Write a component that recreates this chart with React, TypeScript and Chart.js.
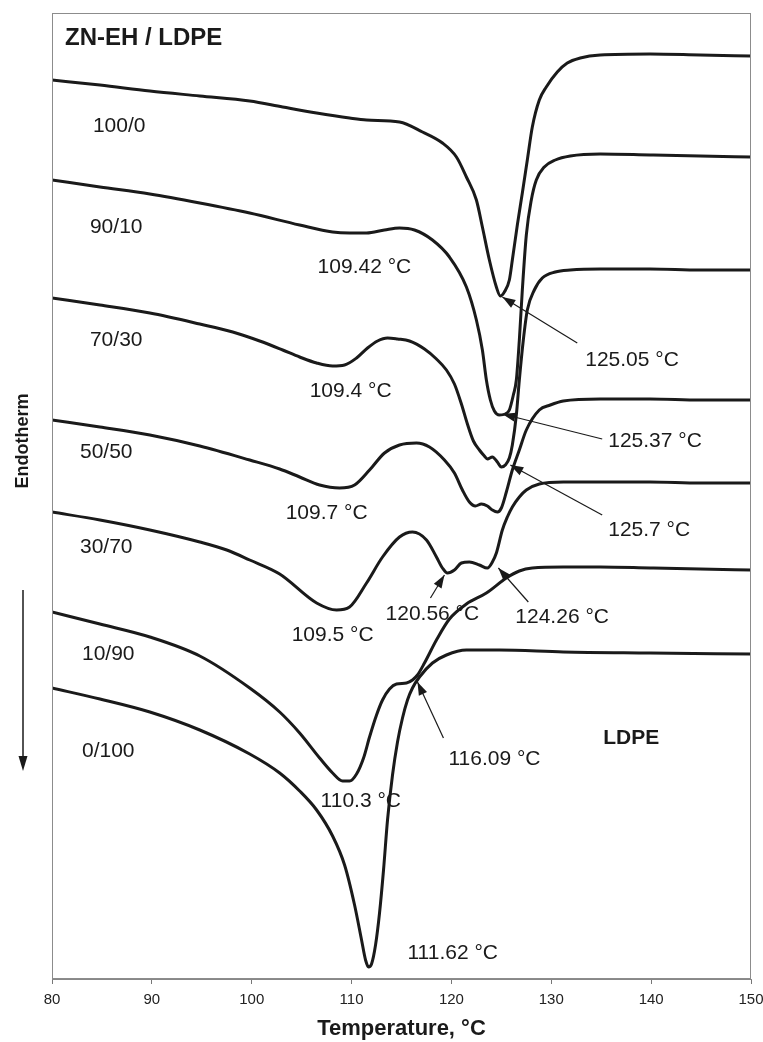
import React, { useEffect, useRef } from "react";
import { Chart, registerables } from "chart.js";

Chart.register(...registerables);

// Temperature (°C) and heat flow (arbitrary units, endotherm down) for each blend
const t100_0 = [80,84.8,89.8,94.8,99.8,103.1,106.5,109.8,111.5,114.8,117.1,119.1,120.5,121.5,122.5,123.1,123.8,124.5,124.9,125.3,125.8,126.1,126.6,127.1,127.6,128.1,128.8,129.5,130.6,131.6,132.9,134.9,139.9,144.9,150];
const h100_0 = [89.9,89.4,88.8,88.3,87.8,87.2,86.6,86.1,85.9,85.7,84.7,83.6,82.2,80.2,77.9,75.2,71.9,69.2,68.3,68.7,69.9,71.9,75.4,78.6,81.9,85.2,87.9,89.2,90.7,91.6,92.1,92.4,92.5,92.4,92.3];

const t90_10 = [80,84.8,89.8,94.8,99.8,104.8,108.1,109.8,111.5,113.3,114.8,116.3,118.1,119.8,121.5,122.5,123.1,123.5,123.9,124.3,124.8,125.4,125.8,126.2,126.5,126.8,127.1,127.5,128.0,128.5,129.3,130.4,131.9,134.9,139.9,144.9,150];
const h90_10 = [79.9,79.2,78.5,77.6,76.6,75.4,74.7,74.6,74.6,74.9,75.1,74.9,73.9,72.2,69.2,65.9,62.9,59.9,57.9,56.8,56.4,56.5,56.9,58.4,59.9,63.9,68.9,74.4,77.9,79.9,81.2,81.9,82.3,82.5,82.4,82.3,82.2];

const t70_30 = [80,84.8,89.8,94.8,98.1,100.8,103.1,104.8,106.5,108.1,109.3,110.5,111.6,112.6,113.6,114.6,115.8,117.3,118.5,119.5,120.3,121.0,121.6,122.2,122.8,123.3,123.6,124.1,124.6,125.0,125.4,125.8,126.1,126.5,126.8,127.2,127.6,128.3,129.1,130.4,131.9,134.9,139.9,144.9,150];
const h70_30 = [68.1,67.4,66.6,65.5,64.7,63.8,62.9,62.2,61.6,61.3,61.4,62.1,63.1,63.8,64.1,64.0,63.8,63.0,62.0,60.9,59.5,57.5,55.5,53.8,52.9,52.3,52.0,52.2,51.7,51.2,51.4,52.1,53.4,56.4,59.9,63.9,66.9,68.9,70.1,70.7,70.9,71.0,71.0,70.9,70.9];

const t50_50 = [80,84.8,89.8,94.8,99.8,102.8,104.8,106.8,108.8,110.3,111.8,113.3,114.8,116.5,117.8,119.3,120.3,121.1,121.8,122.4,123.0,123.6,124.1,124.6,125.0,125.5,126.1,126.8,127.5,128.8,129.9,131.2,134.9,139.9,144.9,150];
const h50_50 = [55.9,55.2,54.4,53.3,51.9,51.0,50.2,49.4,49.1,49.4,50.9,52.6,53.4,53.6,53.2,51.9,50.6,48.9,47.7,47.3,47.5,47.3,46.9,46.7,47.1,48.7,50.9,52.9,54.9,56.9,57.4,57.8,58.0,58.0,57.9,57.9];

const t30_70 = [80,84.8,89.8,94.8,97.5,99.8,102.8,106.5,108.5,109.8,111.5,113.1,114.8,116.1,117.5,118.5,119.1,119.6,120.3,121.0,121.8,122.8,123.6,124.1,124.5,125.1,125.6,126.1,126.8,127.5,128.8,131.2,134.9,139.9,144.9,150];
const h30_70 = [46.7,45.9,44.9,43.7,42.9,41.9,40.5,37.6,36.9,37.2,39.6,42.2,44.2,44.7,43.9,42.2,41.1,40.6,40.9,41.6,41.7,41.4,41.1,41.7,42.6,44.9,46.2,47.2,48.2,48.9,49.5,49.7,49.7,49.7,49.6,49.6];

const t10_90 = [80,84.8,89.8,94.8,99.8,102.8,104.8,106.8,108.1,109.1,109.8,110.5,111.2,111.8,112.5,113.1,113.8,114.5,115.5,116.1,116.6,117.3,118.5,119.8,121.5,123.5,125.5,126.8,128.1,131.2,134.9,139.9,144.9,150];
const h10_90 = [36.7,35.5,34.2,32.3,29.1,26.7,24.6,22.1,20.6,19.8,19.8,20.5,22.1,24.2,26.4,27.9,29.0,29.5,29.6,29.9,30.4,31.6,33.9,36.0,37.5,38.6,40.1,40.8,41.1,41.2,41.2,41.1,41.0,40.9];

const t0_100 = [80,84.8,89.8,94.8,99.8,102.8,104.8,106.5,108.1,109.3,110.3,111.0,111.4,111.7,112.0,112.4,112.8,113.2,113.6,114.1,114.6,115.1,115.6,116.1,116.8,118.1,119.5,121.5,124.8,131.2,139.9,150];
const h0_100 = [29.1,28.0,26.7,24.9,22.5,20.6,18.8,16.9,14.3,11.4,7.4,3.9,1.9,1.2,1.5,3.4,6.6,10.9,15.9,20.4,23.7,26.1,27.9,29.1,30.2,31.6,32.4,32.9,32.9,32.7,32.6,32.5];

const blendNames = ["100/0", "90/10", "70/30", "50/50", "30/70", "10/90", "0/100"];
const xTicks = [80, 90, 100, 110, 120, 130, 140, 150];

// Text annotations: [text, T, H, bold?]
const labels: [string, number, number, boolean][] = [
  ["ZN-EH / LDPE", 81.3, 94.1, true],
  ["100/0", 84.1, 85.3, false],
  ["90/10", 83.8, 75.2, false],
  ["70/30", 83.8, 63.9, false],
  ["50/50", 82.8, 52.7, false],
  ["30/70", 82.8, 43.2, false],
  ["10/90", 83.0, 32.5, false],
  ["0/100", 83.0, 22.8, false],
  ["109.42 °C", 106.6, 71.2, false],
  ["125.05 °C", 133.4, 61.9, false],
  ["109.4 °C", 105.8, 58.8, false],
  ["125.37 °C", 135.7, 53.8, false],
  ["109.7 °C", 103.4, 46.6, false],
  ["125.7 °C", 135.7, 44.9, false],
  ["109.5 °C", 104.0, 34.4, false],
  ["120.56 °C", 113.4, 36.5, false],
  ["124.26 °C", 126.4, 36.2, false],
  ["110.3 °C", 106.9, 17.8, false],
  ["116.09 °C", 119.7, 22.0, false],
  ["111.62 °C", 115.6, 2.6, false],
  ["LDPE", 135.2, 24.1, true],
];

// Arrows: [tailT, tailH, tipT, tipH]
const arrows: [number, number, number, number][] = [
  [132.6, 63.6, 125.1, 68.2],
  [135.1, 54.0, 125.1, 56.5],
  [135.1, 46.4, 125.9, 51.4],
  [117.9, 38.1, 119.3, 40.4],
  [127.7, 37.7, 124.7, 41.1],
  [119.2, 24.1, 116.6, 29.7],
];

const FONT = '"Liberation Sans", Arial, Helvetica, sans-serif';
const INK = "#1a1a1a";

function arrowHead(ctx: CanvasRenderingContext2D, x1: number, y1: number, x2: number, y2: number, len: number, half: number) {
  const a = Math.atan2(y2 - y1, x2 - x1);
  ctx.beginPath();
  ctx.moveTo(x2, y2);
  ctx.lineTo(x2 - len * Math.cos(a) + half * Math.sin(a), y2 - len * Math.sin(a) - half * Math.cos(a));
  ctx.lineTo(x2 - len * Math.cos(a) - half * Math.sin(a), y2 - len * Math.sin(a) + half * Math.cos(a));
  ctx.closePath();
  ctx.fill();
}

const annotPlugin = {
  id: "annot",
  afterDatasetsDraw(chart: any) {
    const { ctx, chartArea: ca, scales } = chart;
    const x = scales.x, y = scales.y;
    ctx.save();
    // frame
    ctx.strokeStyle = "#8c8c8c";
    ctx.lineWidth = 1;
    ctx.strokeRect(ca.left + 0.5, ca.top + 0.5, ca.right - ca.left - 1, ca.bottom - ca.top - 1);

    // labels
    ctx.fillStyle = INK;
    ctx.textBaseline = "middle";
    ctx.textAlign = "left";
    for (const [txt, t, h, bold] of labels) {
      if (txt === "ZN-EH / LDPE") ctx.font = `bold 24px ${FONT}`;
      else ctx.font = bold ? `bold 21px ${FONT}` : `21px ${FONT}`;
      ctx.fillText(txt, x.getPixelForValue(t), y.getPixelForValue(h));
    }

    // arrows
    ctx.strokeStyle = INK;
    ctx.lineWidth = 1.2;
    for (const [t1, h1, t2, h2] of arrows) {
      const x1 = x.getPixelForValue(t1), y1 = y.getPixelForValue(h1);
      const x2 = x.getPixelForValue(t2), y2 = y.getPixelForValue(h2);
      ctx.beginPath();
      ctx.moveTo(x1, y1);
      ctx.lineTo(x2, y2);
      ctx.stroke();
      arrowHead(ctx, x1, y1, x2, y2, 13, 4.5);
    }

    // Endotherm label with downward arrow on the left
    const ex = ca.left - 29;
    ctx.save();
    ctx.translate(ex, ca.top + 428);
    ctx.rotate(-Math.PI / 2);
    ctx.font = `bold 18px ${FONT}`;
    ctx.textAlign = "center";
    ctx.textBaseline = "middle";
    ctx.fillText("Endotherm", 0, 0);
    ctx.restore();
    ctx.lineWidth = 1.5;
    ctx.beginPath();
    ctx.moveTo(ex, ca.top + 577);
    ctx.lineTo(ex, ca.top + 750);
    ctx.stroke();
    arrowHead(ctx, ex, ca.top + 577, ex, ca.top + 758, 15, 4.5);
    ctx.restore();
  },
};

export default function App() {
  const ref = useRef<HTMLCanvasElement | null>(null);
  useEffect(() => {
    document.body.style.margin = "0";
    const canvas = ref.current!;
    const series = [
      [t100_0, h100_0], [t90_10, h90_10], [t70_30, h70_30], [t50_50, h50_50],
      [t30_70, h30_70], [t10_90, h10_90], [t0_100, h0_100],
    ];
    const chart = new Chart(canvas, {
      type: "line",
      data: {
        datasets: series.map(([ts, hs], i) => ({
          label: blendNames[i],
          data: ts.map((t, j) => ({ x: t, y: hs[j] })),
          borderColor: INK,
          borderWidth: 3,
          pointRadius: 0,
          fill: false,
          cubicInterpolationMode: "monotone" as const,
        })),
      },
      options: {
        responsive: false,
        animation: false,
        layout: { padding: { top: 13, right: 12, left: 0, bottom: 0 } },
        plugins: { legend: { display: false }, tooltip: { enabled: false } },
        scales: {
          x: {
            type: "linear",
            min: 80,
            max: 150,
            afterBuildTicks: (s: any) => { s.ticks = xTicks.map((v) => ({ value: v })); },
            afterFit: (s: any) => { s.height = 63; s.paddingLeft = 0; s.paddingRight = 0; },
            ticks: { font: { family: FONT, size: 15 }, color: "#222", padding: 7, maxRotation: 0 },
            grid: { display: true, drawOnChartArea: false, drawTicks: true, tickLength: 5, color: "#777" },
            border: { display: true, color: "#888" },
            title: { display: true, text: "Temperature, °C", font: { family: FONT, size: 22, weight: "bold" }, color: INK, padding: { top: 0, bottom: 0 } },
          },
          y: {
            type: "linear",
            min: 0,
            max: 96.6,
            afterFit: (s: any) => { s.width = 52; s.paddingTop = 0; s.paddingBottom = 0; },
            ticks: { display: false },
            grid: { display: false },
            border: { display: false },
          },
        },
      },
      plugins: [annotPlugin],
    } as any);
    return () => chart.destroy();
  }, []);
  return <canvas ref={ref} width={763} height={1042} style={{ display: "block", width: 763, height: 1042 }} />;
}
